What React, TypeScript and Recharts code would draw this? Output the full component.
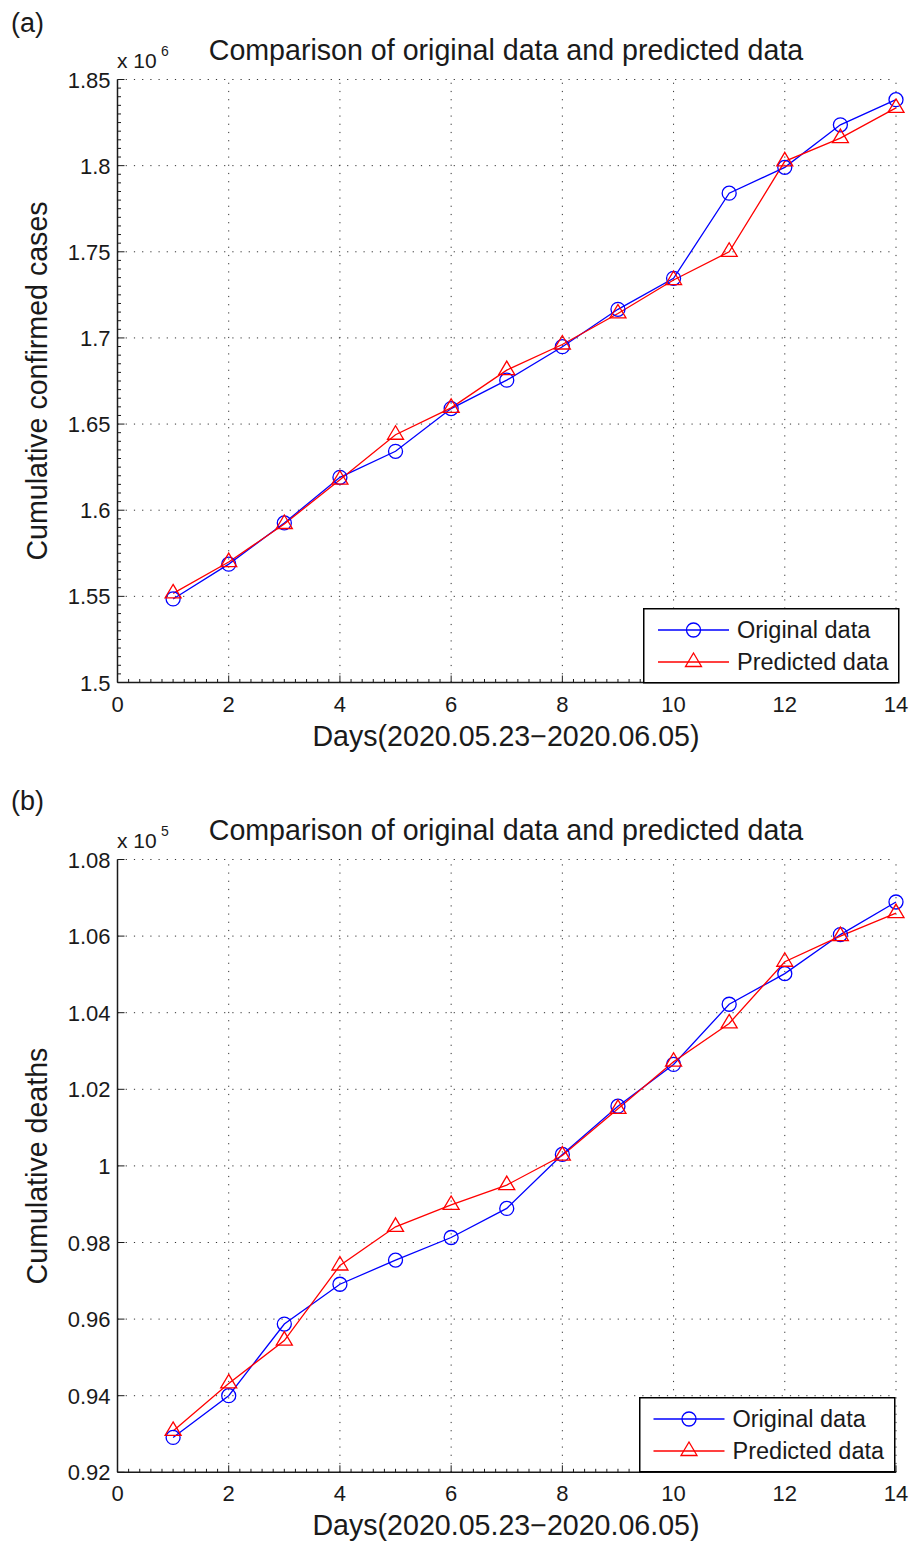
import React from 'react'
import { LineChart, Line, XAxis, YAxis, ReferenceLine, Legend } from 'recharts'

// days on the x axis
const days = [1, 2, 3, 4, 5, 6, 7, 8, 9, 10, 11, 12, 13, 14]

// (a) cumulative confirmed cases, x 10^6
const originalCases = [1.5485, 1.5687, 1.5926, 1.6191, 1.6342, 1.659, 1.6755, 1.6949, 1.7166, 1.7346, 1.784, 1.799, 1.8237, 1.8383]
const predictedCases = [1.5517, 1.5699, 1.592, 1.6177, 1.6438, 1.6594, 1.6813, 1.6962, 1.7142, 1.7336, 1.75, 1.8025, 1.816, 1.8335]

// (b) cumulative deaths, x 10^5
const originalDeaths = [0.9291, 0.94, 0.9587, 0.9691, 0.9754, 0.9813, 0.9889, 1.003, 1.0156, 1.0265, 1.0422, 1.0502, 1.0604, 1.0689]
const predictedDeaths = [0.9308, 0.9432, 0.9544, 0.974, 0.9841, 0.9898, 0.995, 1.0027, 1.0149, 1.0272, 1.0372, 1.0533, 1.06, 1.066]

const xTicks = [0, 2, 4, 6, 8, 10, 12, 14]
const casesTicks = [1.5, 1.55, 1.6, 1.65, 1.7, 1.75, 1.8, 1.85]
const deathsTicks = [0.92, 0.94, 0.96, 0.98, 1, 1.02, 1.04, 1.06, 1.08]

const TITLE = 'Comparison of original data and predicted data'
const XLABEL = 'Days(2020.05.23\u22122020.06.05)'

const FONT = '"Liberation Sans", Arial, Helvetica, sans-serif'
const INK = '#1a1a1a'
const BLUE = '#0000ff'
const RED = '#ff0000'
const LABEL_SIZE = 28.6
const TICK_SIZE = 22

// minor ticks between the majors
function minorTicks(major: number[], parts: number): number[] {
  const out: number[] = []
  for (let i = 0; i < major.length - 1; i++) {
    const step = (major[i + 1] - major[i]) / parts
    for (let k = 0; k < parts; k++) out.push(+(major[i] + k * step).toFixed(6))
  }
  out.push(major[major.length - 1])
  return out
}

function isMajor(v: number, major: number[]) {
  return major.some((m) => Math.abs(m - v) < 1e-6)
}

function fmt(v: number) {
  return String(Number(v.toFixed(3)))
}

function XTick(props: any) {
  const { x, y, payload } = props
  const v = payload.value
  if (!isMajor(v, xTicks)) {
    return <line x1={x} x2={x} y1={y} y2={y - 3.5} stroke={INK} strokeWidth={1} />
  }
  return (
    <g>
      <line x1={x} x2={x} y1={y} y2={y - 7} stroke={INK} strokeWidth={1} />
      <text x={x} y={y + 29} textAnchor="middle" fontSize={TICK_SIZE} fontFamily={FONT} fill={INK}>
        {fmt(v)}
      </text>
    </g>
  )
}

function makeYTick(major: number[]) {
  return (props: any) => {
    const { x, y, payload } = props
    const v = payload.value
    if (!isMajor(v, major)) {
      return <line x1={x} x2={x + 3.5} y1={y} y2={y} stroke={INK} strokeWidth={1} />
    }
    return (
      <g>
        <line x1={x} x2={x + 7} y1={y} y2={y} stroke={INK} strokeWidth={1} />
        <text x={x - 7} y={y + 8} textAnchor="end" fontSize={TICK_SIZE} fontFamily={FONT} fill={INK}>
          {fmt(v)}
        </text>
      </g>
    )
  }
}

function Triangle(props: any) {
  const { cx, cy, index } = props
  if (cx == null || cy == null) return <g key={`t-${index}`} />
  return (
    <path
      key={`t-${index}`}
      d={`M${cx},${cy - 9} L${cx + 8},${cy + 4.5} L${cx - 8},${cy + 4.5} Z`}
      fill="none"
      stroke={RED}
      strokeWidth={1.3}
    />
  )
}

function LegendBox({ dx }: { dx: number }) {
  return (
    <svg width={257} height={76} style={{ display: 'block' }}>
      <rect x={0.75} y={0.75} width={255} height={74} fill="#fff" stroke="#000" strokeWidth={1.5} />
      <line x1={15 + dx} x2={86 + dx} y1={22} y2={22} stroke={BLUE} strokeWidth={1.3} />
      <circle cx={50.5 + dx} cy={22} r={7} fill="none" stroke={BLUE} strokeWidth={1.3} />
      <text x={94 + dx} y={30} fontSize={23.5} fontFamily={FONT} fill={INK}>
        Original data
      </text>
      <line x1={15 + dx} x2={86 + dx} y1={54} y2={54} stroke={RED} strokeWidth={1.3} />
      <path d={`M${50.5 + dx},45 L${58.5 + dx},58.5 L${42.5 + dx},58.5 Z`} fill="none" stroke={RED} strokeWidth={1.3} />
      <text x={94 + dx} y={62} fontSize={23.5} fontFamily={FONT} fill={INK}>
        Predicted data
      </text>
    </svg>
  )
}

interface PanelProps {
  top: number
  height: number
  margin: { top: number; right: number; bottom: number; left: number }
  orig: number[]
  pred: number[]
  yTicks: number[]
  yMinor: number[]
  legendPos: { left: number; top: number }
  legendDx: number
}

function Panel({ top, height, margin, orig, pred, yTicks, yMinor, legendPos, legendDx }: PanelProps) {
  const data = days.map((d, i) => ({ day: d, orig: orig[i], pred: pred[i] }))
  const xMinor = minorTicks(xTicks, 10)
  const yMin = yTicks[0]
  const yMax = yTicks[yTicks.length - 1]
  return (
    <div style={{ position: 'absolute', left: 0, top }}>
      <LineChart width={919} height={height} data={data} margin={margin}>
        <XAxis
          dataKey="day"
          type="number"
          domain={[0, 14]}
          ticks={xMinor}
          interval={0}
          height={30}
          tickLine={false}
          tickSize={0}
          tickMargin={0}
          axisLine={{ stroke: INK, strokeWidth: 1.5 }}
          tick={XTick}
        />
        <YAxis
          type="number"
          domain={[yMin, yMax]}
          ticks={yMinor}
          interval={0}
          width={60}
          tickLine={false}
          tickSize={0}
          tickMargin={0}
          axisLine={{ stroke: INK, strokeWidth: 1.5 }}
          tick={makeYTick(yTicks)}
          allowDataOverflow
        />
        {xTicks.slice(1).map((v) => (
          <ReferenceLine key={`gx-${v}`} x={v} stroke="#333" strokeWidth={1} strokeDasharray="1.2 7" />
        ))}
        {yTicks.slice(1).map((v) => (
          <ReferenceLine key={`gy-${v}`} y={v} stroke="#333" strokeWidth={1} strokeDasharray="1.2 7" />
        ))}
        <Line
          dataKey="orig"
          stroke={BLUE}
          strokeWidth={1.3}
          dot={{ r: 7, fill: 'none', stroke: BLUE, strokeWidth: 1.3 }}
          activeDot={false}
          isAnimationActive={false}
        />
        <Line
          dataKey="pred"
          stroke={RED}
          strokeWidth={1.3}
          dot={Triangle}
          activeDot={false}
          isAnimationActive={false}
        />
        <Legend
          layout="vertical"
          align="center"
          verticalAlign="middle"
          wrapperStyle={{ left: legendPos.left, top: legendPos.top, width: 257, height: 76 }}
          content={() => <LegendBox dx={legendDx} />}
        />
      </LineChart>
    </div>
  )
}

export default function App() {
  const casesMinor = minorTicks(casesTicks, 10)
  const txt = { fontFamily: FONT, fill: INK }
  return (
    <div style={{ position: 'absolute', left: 0, top: 0, width: 919, height: 1542, background: '#fff' }}>
      <Panel
        top={0}
        height={770}
        margin={{ top: 79.5, right: 23, bottom: 57.5, left: 57.5 }}
        orig={originalCases}
        pred={predictedCases}
        yTicks={casesTicks}
        yMinor={casesMinor}
        legendPos={{ left: 642.5, top: 607.5 }}
        legendDx={0}
      />
      <Panel
        top={770}
        height={772}
        margin={{ top: 89.5, right: 23, bottom: 39.7, left: 57.5 }}
        orig={originalDeaths}
        pred={predictedDeaths}
        yTicks={deathsTicks}
        yMinor={deathsTicks}
        legendPos={{ left: 639, top: 626.5 }}
        legendDx={-0.5}
      />
      <svg width={919} height={1542} style={{ position: 'absolute', left: 0, top: 0, pointerEvents: 'none' }}>
        <text x={11} y={32} fontSize={27} {...txt}>(a)</text>
        <text x={117} y={68} fontSize={21} {...txt}>x 10</text>
        <text x={161} y={56} fontSize={14} {...txt}>6</text>
        <text x={506} y={60} fontSize={LABEL_SIZE} textAnchor="middle" {...txt}>{TITLE}</text>
        <text x={506} y={746} fontSize={LABEL_SIZE} textAnchor="middle" {...txt}>{XLABEL}</text>
        <text x={47} y={381} fontSize={LABEL_SIZE} textAnchor="middle" transform="rotate(-90 47 381)" {...txt}>
          Cumulative confirmed cases
        </text>

        <text x={11} y={810} fontSize={27} {...txt}>(b)</text>
        <text x={117} y={848} fontSize={21} {...txt}>x 10</text>
        <text x={161} y={836} fontSize={14} {...txt}>5</text>
        <text x={506} y={840} fontSize={LABEL_SIZE} textAnchor="middle" {...txt}>{TITLE}</text>
        <text x={506} y={1535} fontSize={LABEL_SIZE} textAnchor="middle" {...txt}>{XLABEL}</text>
        <text x={47} y={1166} fontSize={LABEL_SIZE} textAnchor="middle" transform="rotate(-90 47 1166)" {...txt}>
          Cumulative deaths
        </text>
      </svg>
    </div>
  )
}
